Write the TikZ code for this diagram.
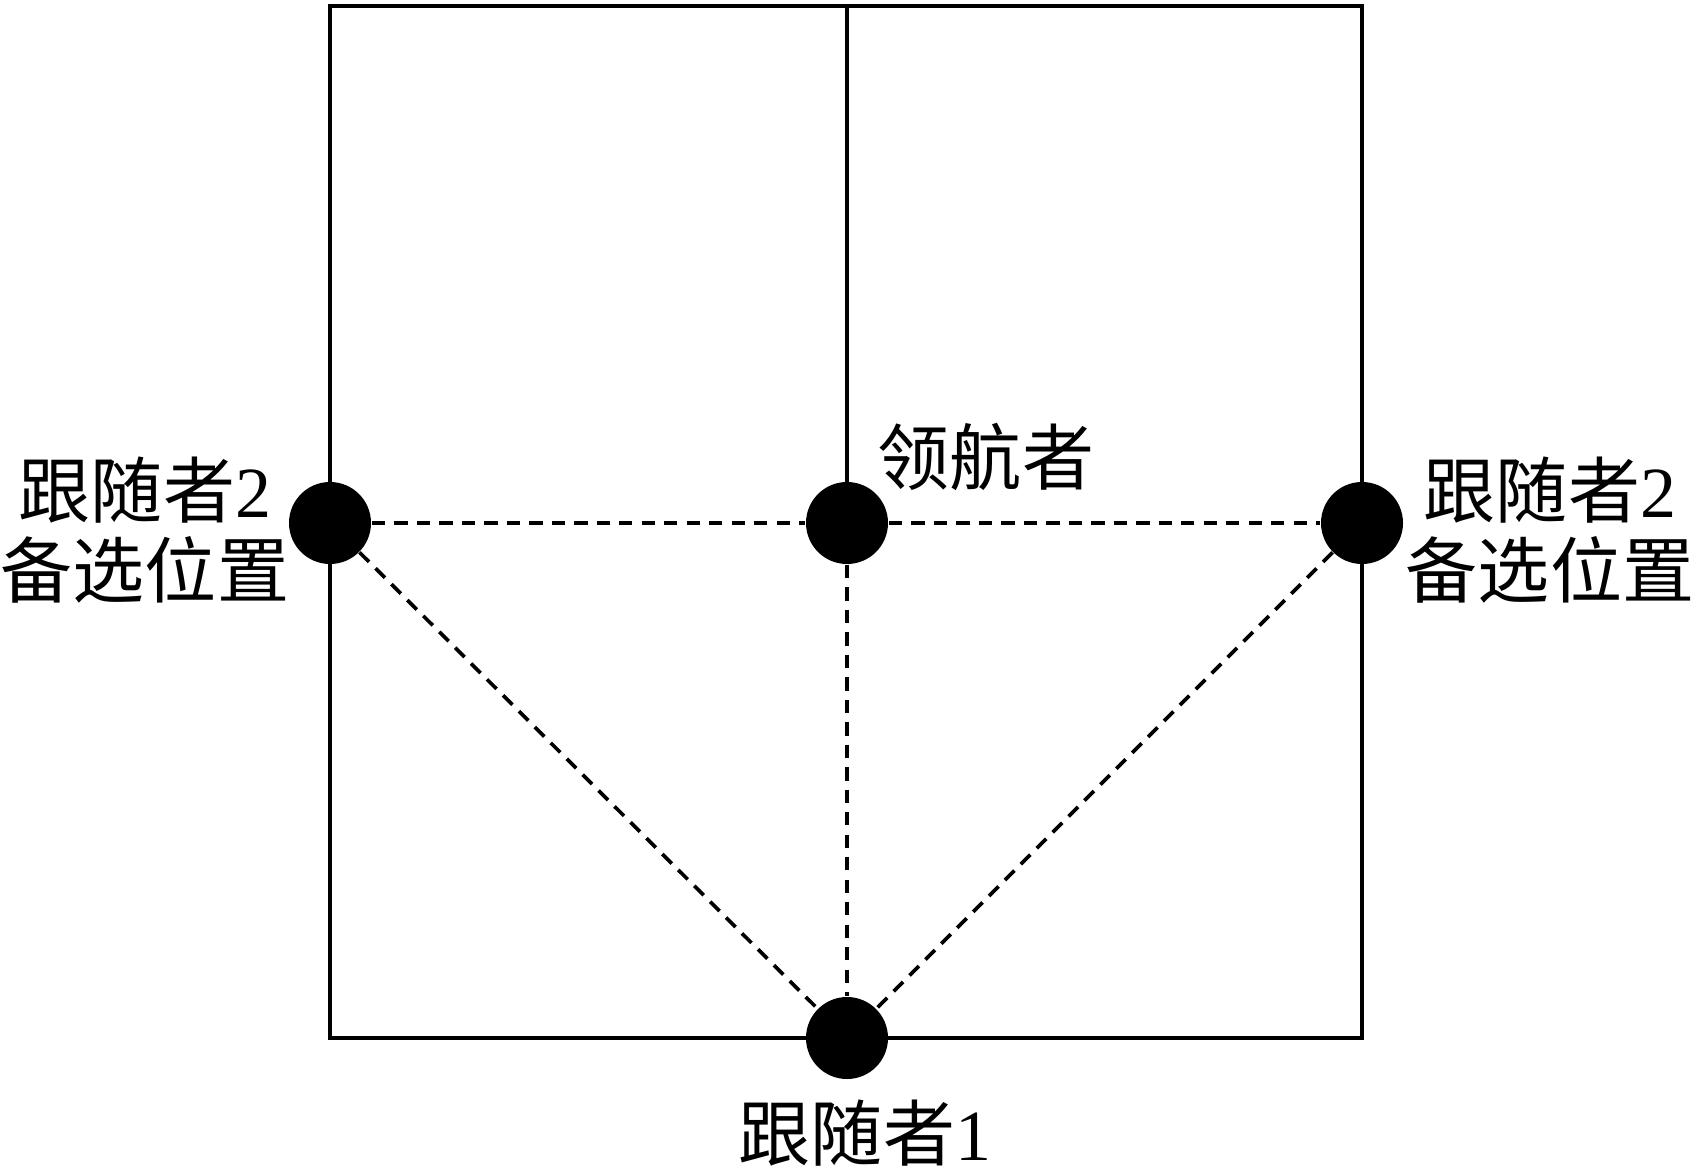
\documentclass[tikz,border=0pt]{standalone}
\usepackage{fontspec}
\setmainfont{Liberation Serif}
\newfontfamily\cjk{Noto Sans CJK SC}
\usepackage{tikz}

\begin{document}
\begin{tikzpicture}[
    agent/.style={circle, fill=black, inner sep=0pt, minimum size=0.82cm},
    link/.style={line width=1.05pt, dash pattern=on 3.8pt off 2.6pt},
    edge/.style={line width=1.2pt},
    lbl/.style={align=center, inner sep=0pt, font=\fontsize{20.5}{22.8}\selectfont}
  ]
      \useasboundingbox (0,0) rectangle (16.98,11.74);

      \coordinate (top-l)  at (3.30,11.68);
      \coordinate (top-m)  at (8.47,11.68);
      \coordinate (top-r)  at (13.62,11.68);
      \coordinate (bot-l)  at (3.30,1.36);
      \coordinate (bot-r)  at (13.62,1.36);

      \draw[edge] (bot-l) -- (top-l) -- (top-r) -- (bot-r) -- cycle;
      \draw[edge] (top-m) -- (8.47,6.51);

      \node[agent] (follower-l) at (3.30,6.51)  {};
      \node[agent] (leader)     at (8.47,6.51)  {};
      \node[agent] (follower-r) at (13.62,6.51) {};
      \node[agent] (follower-1) at (8.47,1.36)  {};

      \draw[link] (follower-l) -- (leader);
      \draw[link] (leader)     -- (follower-r);
      \draw[link] (follower-l) -- (follower-1);
      \draw[link] (leader)     -- (follower-1);
      \draw[link] (follower-r) -- (follower-1);

      \node[lbl] (follower-l-text) at (1.45,6.44)  {{\cjk 跟随者}2\\{\cjk 备选位置}};
      \node[lbl] (follower-r-text) at (15.50,6.44) {{\cjk 跟随者}2\\{\cjk 备选位置}};
      \node[lbl] (leader-text)     at (9.86,7.17)  {{\cjk 领航者}};
      \node[lbl] (follower-1-text) at (8.65,0.41)  {{\cjk 跟随者}1};
    \end{tikzpicture}
\end{document}
